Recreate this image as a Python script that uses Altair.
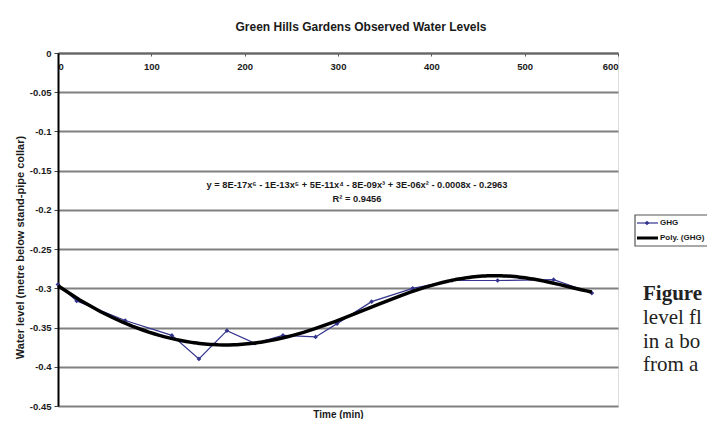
import altair as alt
import pandas as pd

# ---- data ----
times = [0, 20, 72, 122, 151, 181, 211, 241, 276, 299, 336, 380, 422, 471, 531, 572]
levels = [-0.295, -0.316, -0.341, -0.360, -0.390, -0.354, -0.370, -0.360, -0.362,
          -0.345, -0.317, -0.300, -0.290, -0.290, -0.289, -0.306]
x_ticks = [0, 100, 200, 300, 400, 500, 600]
y_ticks = [0, -0.05, -0.1, -0.15, -0.2, -0.25, -0.3, -0.35, -0.4, -0.45]
series_names = ["GHG", "Poly. (GHG)"]
title_text = "Green Hills Gardens Observed Water Levels"
equation = "y = 8E-17x\u2076 - 1E-13x\u2075 + 5E-11x\u2074 - 8E-09x\u00b3 + 3E-06x\u00b2 - 0.0008x - 0.2963"
r2_text = "R\u00b2 = 0.9456"
side_text = ["Figure", "level fl", "in a bo", "from a"]

W, H = 560, 353
FONT = "Liberation Sans"
GRID = "#808080"
BLUE = "#34348f"
INK = "#1a1a1a"

df = pd.DataFrame({"t": times, "v": levels})

xenc = alt.X(
    "t:Q",
    scale=alt.Scale(domain=[0, 600], nice=False),
    axis=alt.Axis(
        orient="bottom", offset=-H, values=x_ticks, format="d",
        labelFontSize=9.5, labelFontWeight="bold", labelColor=INK, labelPadding=5,
        tickSize=3, tickColor="#555", domainColor="#666", domainWidth=2, grid=False,
        title="Time (min)", titleY=H + 11, titleBaseline="alphabetic",
        titleFontSize=10, titleFontWeight="bold", titleColor=INK,
    ),
)
yenc = alt.Y(
    "v:Q",
    scale=alt.Scale(domain=[-0.45, 0], nice=False, zero=False),
    axis=alt.Axis(
        values=y_ticks, labelExpr="'' + datum.value",
        grid=True, gridColor=GRID, gridWidth=1.8,
        domainColor="black", domainWidth=2, tickSize=4, tickColor="#444",
        labelPadding=3, labelFontSize=9.5, labelFontWeight="bold", labelColor=INK,
        title="Water level (metre below stand-pipe collar)",
        titleX=-38, titleY=194, titleAngle=270, titleAlign="center",
        titleBaseline="middle", titleFontSize=11, titleFontWeight="bold", titleColor=INK,
    ),
)

base = alt.Chart(df)

ghg = base.mark_line(
    color=BLUE, strokeWidth=1.2,
    point=alt.OverlayMarkDef(shape="diamond", size=22, filled=True, color=BLUE),
).encode(x=xenc, y=yenc)

trend = base.transform_regression(
    "t", "v", method="poly", order=6
).mark_line(color="black", strokeWidth=3.5).encode(x=xenc, y=yenc)

one = pd.DataFrame({"k": [0]})


def text_layer(txt, x, y, size, weight="bold", font=FONT, align="center", color=INK):
    return alt.Chart(pd.DataFrame({"label": [txt]})).mark_text(
        font=font, fontSize=size, fontWeight=weight, align=align,
        baseline="middle", color=color,
    ).encode(x=alt.value(x), y=alt.value(y), text="label:N")


title = text_layer(title_text, 303, -26, 12)
eq1 = text_layer(equation, 299, 132, 9.3)
eq2 = text_layer(r2_text, 299, 146, 9.3)

# legend box
leg_box = alt.Chart(one).mark_rect(fill="white", stroke="#555", strokeWidth=1.2).encode(
    x=alt.value(577), x2=alt.value(670), y=alt.value(162), y2=alt.value(193)
)
leg_l1 = alt.Chart(one).mark_rule(color=BLUE, strokeWidth=1.2).encode(
    x=alt.value(579), x2=alt.value(600), y=alt.value(170)
)
leg_p1 = alt.Chart(one).mark_point(shape="diamond", size=22, filled=True, color=BLUE, opacity=1).encode(
    x=alt.value(589), y=alt.value(170)
)
leg_l2 = alt.Chart(one).mark_rule(color="black", strokeWidth=3).encode(
    x=alt.value(579), x2=alt.value(600), y=alt.value(185)
)
leg_t1 = text_layer(series_names[0], 602, 170, 8, align="left")
leg_t2 = text_layer(series_names[1], 602, 185, 8, align="left")

SERIF = "Liberation Serif"
side = [
    text_layer(side_text[0], 585, 241, 21, weight="bold", font=SERIF, align="left", color="#222"),
    text_layer(side_text[1], 585, 265, 21, weight="normal", font=SERIF, align="left", color="#222"),
    text_layer(side_text[2], 585, 289, 21, weight="normal", font=SERIF, align="left", color="#222"),
    text_layer(side_text[3], 585, 312, 21, weight="normal", font=SERIF, align="left", color="#222"),
]

chart = alt.layer(
    ghg, trend, title, eq1, eq2, leg_box, leg_l1, leg_p1, leg_l2, leg_t1, leg_t2, *side
).properties(
    width=W, height=H,
    autosize=alt.AutoSizeParams(type="none"),
    padding={"left": 50, "top": 45, "right": 89, "bottom": 13},
    background="white",
).configure_view(
    stroke=GRID, strokeWidth=1
).configure(font=FONT)

chart.save("out.html", embed_options={"renderer": "svg", "actions": False})
